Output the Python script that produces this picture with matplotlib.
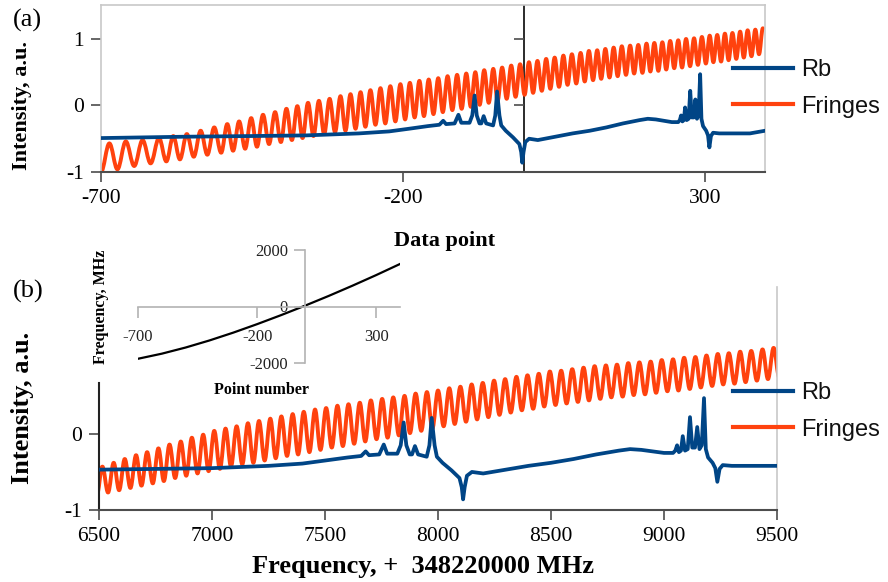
import numpy as np
import matplotlib
matplotlib.use("Agg")
import matplotlib.pyplot as plt
from matplotlib.lines import Line2D
from matplotlib.markers import TICKLEFT
from matplotlib.path import Path
from matplotlib.patches import PathPatch

# ---------------------------------------------------------------------------
# Data
# ---------------------------------------------------------------------------
# Frequency calibration: data point number -> relative frequency (MHz)
calib_points = [-700, -600, -500, -400, -300, -200, -100, 0, 100, 200, 300, 400]
calib_mhz = [-1850, -1670, -1452, -1202, -925, -625, -308, 25, 372, 735, 1112, 1505]
freq_origin = 8093          # MHz above 348220000 MHz that corresponds to 0 in calib_mhz

# Etalon fringes: troughs and crests (MHz above 348220000 MHz, intensity a.u.)
trough_mhz = [6243, 6292, 6342, 6391, 6441, 6490, 6540, 6589, 6639, 6688, 6738, 6787,
              6837, 6886, 6936, 6985, 7035, 7084, 7134, 7183, 7233, 7282, 7332, 7381,
              7431, 7480, 7530, 7579, 7629, 7678, 7728, 7777, 7827, 7876, 7926, 7975,
              8025, 8074, 8124, 8173, 8223, 8272, 8322, 8371, 8421, 8470, 8520, 8569,
              8619, 8668, 8718, 8767, 8817, 8866, 8916, 8965, 9015, 9064, 9114, 9163,
              9213, 9262, 9312, 9361, 9411, 9460, 9510, 9559]
trough_level = [-1.00, -0.96, -0.91, -0.87, -0.84, -0.81, -0.77, -0.74, -0.71, -0.68,
                -0.65, -0.62, -0.58, -0.55, -0.52, -0.49, -0.46, -0.43, -0.40, -0.38,
                -0.35, -0.32, -0.29, -0.27, -0.24, -0.21, -0.18, -0.16, -0.13, -0.10,
                -0.07, -0.05, -0.02, 0.01, 0.04, 0.07, 0.10, 0.13, 0.16, 0.19,
                0.22, 0.25, 0.28, 0.31, 0.33, 0.36, 0.38, 0.40, 0.42, 0.44,
                0.46, 0.48, 0.49, 0.51, 0.52, 0.54, 0.56, 0.57, 0.59, 0.61,
                0.63, 0.65, 0.66, 0.68, 0.70, 0.72, 0.74, 0.77]
peak_mhz = [6268, 6317, 6367, 6416, 6466, 6515, 6565, 6614, 6664, 6713, 6763, 6812,
            6862, 6911, 6961, 7010, 7060, 7109, 7159, 7208, 7258, 7307, 7357, 7406,
            7456, 7505, 7555, 7604, 7654, 7703, 7753, 7802, 7852, 7901, 7951, 8000,
            8050, 8099, 8149, 8198, 8248, 8297, 8347, 8396, 8446, 8495, 8545, 8594,
            8644, 8693, 8743, 8792, 8842, 8891, 8941, 8990, 9040, 9089, 9139, 9188,
            9238, 9287, 9337, 9386, 9436, 9485, 9535, 9584]
peak_level = [-0.57, -0.54, -0.52, -0.49, -0.46, -0.43, -0.38, -0.33, -0.28, -0.24,
              -0.19, -0.14, -0.10, -0.05, -0.01, 0.04, 0.07, 0.10, 0.14, 0.17,
              0.20, 0.23, 0.26, 0.29, 0.32, 0.34, 0.37, 0.39, 0.41, 0.44,
              0.46, 0.48, 0.50, 0.53, 0.55, 0.57, 0.60, 0.62, 0.65, 0.67,
              0.70, 0.72, 0.75, 0.77, 0.79, 0.82, 0.83, 0.85, 0.87, 0.89,
              0.90, 0.91, 0.93, 0.94, 0.95, 0.97, 0.98, 1.00, 1.01, 1.03,
              1.05, 1.06, 1.08, 1.09, 1.11, 1.13, 1.14, 1.16]

# Rb saturated absorption trace (MHz above 348220000 MHz, intensity a.u.)
rb_mhz = [6243, 6500, 6750, 7000, 7250, 7400, 7500, 7600, 7660, 7680, 7695, 7740,
          7760, 7775, 7820, 7835, 7848, 7860, 7875, 7885, 7898, 7912, 7950, 7962,
          7972, 7985, 7995, 8020, 8060, 8095, 8105, 8111, 8118, 8128, 8150, 8200,
          8300, 8400, 8500, 8600, 8700, 8800, 8850, 8900, 8950, 9000, 9040, 9050,
          9058, 9066, 9075, 9083, 9093, 9105, 9115, 9125, 9137, 9147, 9157, 9167,
          9177, 9185, 9195, 9215, 9227, 9236, 9246, 9260, 9300, 9400, 9500, 9598]
rb_level = [-0.49, -0.47, -0.46, -0.45, -0.42, -0.39, -0.35, -0.31, -0.29, -0.23, -0.28, -0.27,
            -0.14, -0.26, -0.26, -0.15, 0.15, -0.15, -0.27, -0.27, -0.16, -0.27, -0.30, -0.15,
            0.21, -0.15, -0.30, -0.38, -0.48, -0.58, -0.70, -0.86, -0.70, -0.55, -0.50, -0.52,
            -0.47, -0.42, -0.38, -0.33, -0.27, -0.22, -0.20, -0.21, -0.23, -0.25, -0.25, -0.22,
            -0.15, -0.24, -0.22, -0.03, -0.22, -0.20, 0.22, -0.18, -0.18, 0.09, -0.20, -0.15,
            0.47, -0.20, -0.31, -0.38, -0.45, -0.63, -0.46, -0.41, -0.42, -0.42, -0.42, -0.38]

series_names = ['Rb', 'Fringes']
ticks_a_x = [-700, -200, 300]
ticks_a_y = [-1, 0, 1]
ticks_b_x = [6500, 7000, 7500, 8000, 8500, 9000, 9500]
ticks_b_y = [-1, 0]
ticks_in_x = [-700, -200, 300]
ticks_in_y = [-2000, 0, 2000]

RB_COLOR = '#004586'
FR_COLOR = '#ff420e'

# ---------------------------------------------------------------------------
# Derived arrays
# ---------------------------------------------------------------------------
fr_mhz = np.column_stack([trough_mhz, peak_mhz]).ravel().astype(float)
fr_level = np.column_stack([trough_level, peak_level]).ravel()
rb_mhz = np.asarray(rb_mhz, float)

# data point number of every sample, through the calibration table
fr_point = np.interp(fr_mhz - freq_origin, calib_mhz, calib_points)
rb_point = np.interp(rb_mhz - freq_origin, calib_mhz, calib_points)


def fringe_path(x, y, k=0.3642):
    """Smooth path through successive fringe extrema (flat tangent at each one)."""
    verts = [(x[0], y[0])]
    codes = [Path.MOVETO]
    for i in range(len(x) - 1):
        dx = x[i + 1] - x[i]
        verts += [(x[i] + k * dx, y[i]), (x[i + 1] - k * dx, y[i + 1]), (x[i + 1], y[i + 1])]
        codes += [Path.CURVE4] * 3
    return Path(verts, codes)


# ---------------------------------------------------------------------------
# Figure
# ---------------------------------------------------------------------------
plt.rcParams['font.family'] = ['Liberation Serif', 'DejaVu Serif']
plt.rcParams['axes.unicode_minus'] = False

W, H = 888, 582
fig = plt.figure(figsize=(W / 100, H / 100), dpi=100)


def box(left, top, right, bottom):
    return [left / W, 1 - bottom / H, (right - left) / W, (bottom - top) / H]


def fx(x):
    return x / W


def fy(y):
    return 1 - y / H


LIGHT = '#c8c8c8'
DARK = '#4d4d4d'
FR_LW = 2.8
RB_LW = 2.7
legend_font = {'family': 'Liberation Sans', 'size': 17}
handles = [Line2D([], [], color=RB_COLOR, lw=3), Line2D([], [], color=FR_COLOR, lw=3)]
legend_kw = dict(loc='upper left', bbox_transform=fig.transFigure, frameon=False,
                 borderpad=0, borderaxespad=0, handlelength=2.55, handletextpad=0.35,
                 labelspacing=0.62, prop=legend_font, labelcolor='#111111')

# ---------------- panel (a): intensity vs data point ----------------
ax_a = fig.add_axes(box(101, 5, 765, 172))
ax_a.add_patch(PathPatch(fringe_path(fr_point, fr_level), fill=False, edgecolor=FR_COLOR,
                         lw=FR_LW, joinstyle='round', capstyle='round', zorder=2))
ax_a.plot(rb_point, rb_level, color=RB_COLOR, lw=RB_LW, solid_joinstyle='round', zorder=3)
ax_a.set_xlim(-700, 400)
ax_a.set_ylim(-1, 1.51)
ax_a.set_xticks(ticks_a_x)
ax_a.set_yticks(ticks_a_y)
for side in ('left', 'top', 'right'):
    ax_a.spines[side].set_color(LIGHT)
    ax_a.spines[side].set_linewidth(1.2)
ax_a.spines['bottom'].set_color(DARK)
ax_a.spines['bottom'].set_linewidth(1.5)
ax_a.tick_params(axis='both', direction='out', length=7.5, width=1.2, color=DARK,
                 labelsize=15.5, pad=5)

# vertical axis drawn at data point 0
ax_a.axvline(0, color='#1a1a1a', lw=1.3, zorder=1.5)
ax_a.plot(np.zeros(len(ticks_a_y)), ticks_a_y, ls='none', marker=TICKLEFT, ms=7.5,
          mew=1.2, color=DARK, clip_on=False, zorder=1.5)

ax_a.legend(handles, series_names, bbox_to_anchor=(fx(733), fy(59)), **legend_kw)

fig.text(fx(27), fy(20), '(a)', fontsize=19, ha='center', va='center')
fig.text(fx(22), fy(105), 'Intensity, a.u.', fontsize=16, fontweight='bold',
         rotation=90, ha='center', va='center')
fig.text(fx(445), fy(241), 'Data point', fontsize=16, fontweight='bold',
         ha='center', va='center')

# ---------------- panel (b): intensity vs frequency ----------------
ax_b = fig.add_axes(box(99, 287, 777, 510))
ax_b.add_patch(PathPatch(fringe_path(fr_mhz, fr_level), fill=False, edgecolor=FR_COLOR,
                         lw=FR_LW, joinstyle='round', capstyle='round', zorder=2))
ax_b.plot(rb_mhz, rb_level, color=RB_COLOR, lw=RB_LW, solid_joinstyle='round', zorder=3)
ax_b.set_xlim(6500, 9500)
ax_b.set_ylim(-1, 1.93)
ax_b.set_xticks(ticks_b_x)
ax_b.set_yticks(ticks_b_y)
ax_b.spines['top'].set_visible(False)
ax_b.spines['right'].set_color(LIGHT)
ax_b.spines['right'].set_linewidth(1.2)
ax_b.spines['left'].set_color('#222222')
ax_b.spines['left'].set_linewidth(1.5)
ax_b.spines['left'].set_bounds(-1, 0.67)
ax_b.spines['bottom'].set_color(DARK)
ax_b.spines['bottom'].set_linewidth(1.5)
ax_b.tick_params(axis='both', direction='out', length=7.5, width=1.2, color=DARK,
                 labelsize=15.5, pad=5)
ax_b.legend(handles, series_names, bbox_to_anchor=(fx(733), fy(382)), **legend_kw)

fig.text(fx(28), fy(291), '(b)', fontsize=19, ha='center', va='center')
fig.text(fx(22), fy(408), 'Intensity, a.u.', fontsize=19, fontweight='bold',
         rotation=90, ha='center', va='center')
fig.text(fx(423), fy(566), 'Frequency, +  348220000 MHz', fontsize=19, fontweight='bold',
         ha='center', va='center')

# ---------------- inset: calibration curve ----------------
ax_in = fig.add_axes(box(138, 250, 400, 363))
ax_in.patch.set_visible(False)
ax_in.plot(calib_points, calib_mhz, color='black', lw=1.6)
ax_in.set_xlim(-700, 400)
ax_in.set_ylim(-2000, 2000)
ax_in.set_xticks(ticks_in_x)
ax_in.set_yticks(ticks_in_y)
ax_in.spines['left'].set_position(('data', 0))
ax_in.spines['bottom'].set_position(('data', 0))
ax_in.spines['top'].set_visible(False)
ax_in.spines['right'].set_visible(False)
for side in ('left', 'bottom'):
    ax_in.spines[side].set_color('#b3b3b3')
    ax_in.spines[side].set_linewidth(1.2)
ax_in.tick_params(axis='both', direction='out', length=8, width=1.2, color='#b3b3b3',
                  labelsize=12, labelcolor='#222222', pad=4)
ax_in.tick_params(axis='x', pad=8)

fig.text(fx(101), fy(307), 'Frequency, MHz', fontsize=11.5, fontweight='bold',
         rotation=90, ha='center', va='center')
fig.text(fx(261), fy(390), 'Point number', fontsize=11.5, fontweight='bold',
         ha='center', va='center')

fig.savefig('out.png', dpi=100)
